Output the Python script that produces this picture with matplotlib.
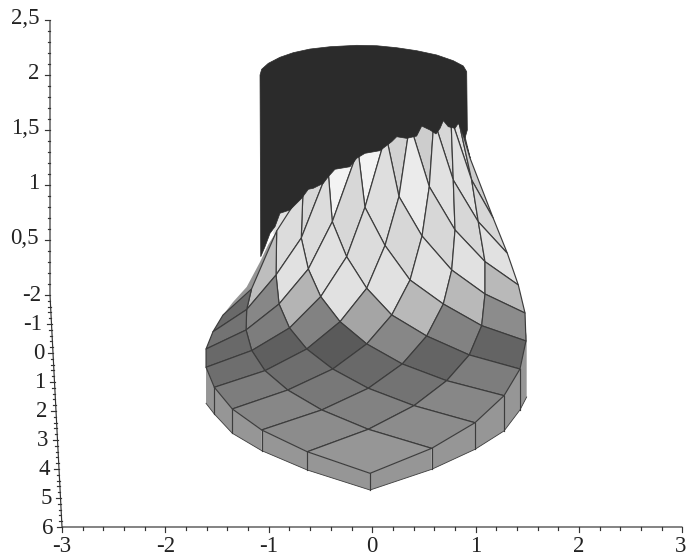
import matplotlib
matplotlib.use("Agg")
import matplotlib.pyplot as plt
import numpy as np

# Vertical axis ticks
z_ticks = [0.5, 1.0, 1.5, 2.0, 2.5]
z_labels = ["0,5", "1", "1,5", "2", "2,5"]
z_minor = [0.1, 0.2, 0.3, 0.4, 0.6, 0.7, 0.8, 0.9, 1.1, 1.2, 1.3, 1.4, 1.6, 1.7, 1.8, 1.9, 2.1, 2.2, 2.3, 2.4]
# Horizontal axis ticks
x_ticks = [-3, -2, -1, 0, 1, 2, 3]
# Depth axis ticks
d_ticks = [-2, -1, 0, 1, 2, 3, 4, 5, 6]

# Mesh nodes: one list per family line, projected on to the (x, z) plane
row0_x = [-0.021, 0.575, 0.994, 1.275, 1.429, 1.487, 1.478, 1.413, 1.307, 1.171, 0.946, 0.897]
row0_z = [-1.621, -1.394, -1.161, -0.915, -0.673, -0.418, -0.164, 0.091, 0.379, 0.697, 1.245, 1.436]
row1_x = [-0.628, -0.038, 0.404, 0.720, 0.939, 1.059, 1.091, 1.091, 1.026, 0.962, 0.830]
row1_z = [-1.425, -1.221, -1.006, -0.779, -0.545, -0.279, 0.009, 0.303, 0.666, 1.045, 1.609]
row2_x = [-1.069, -0.488, -0.038, 0.291, 0.527, 0.688, 0.769, 0.801, 0.784, 0.762]
row2_z = [-1.227, -1.045, -0.848, -0.627, -0.373, -0.082, 0.227, 0.591, 1.045, 1.609]
row3_x = [-1.353, -0.817, -0.382, -0.053, 0.189, 0.366, 0.482, 0.552, 0.597]
row3_z = [-1.036, -0.864, -0.673, -0.445, -0.182, 0.136, 0.536, 0.985, 1.591]
row4_x = [-1.527, -1.037, -0.633, -0.311, -0.053, 0.124, 0.259, 0.364]
row4_z = [-0.839, -0.688, -0.491, -0.243, 0.061, 0.450, 0.895, 1.555]
row5_x = [-1.607, -1.165, -0.800, -0.498, -0.247, -0.070, 0.133]
row5_z = [-0.657, -0.505, -0.300, -0.015, 0.348, 0.797, 1.455]
row6_x = [-1.607, -1.220, -0.901, -0.618, -0.386, -0.137]
row6_z = [-0.491, -0.318, -0.082, 0.236, 0.666, 1.318]
row7_x = [-1.540, -1.214, -0.930, -0.686, -0.427]
row7_z = [-0.334, -0.132, 0.182, 0.518, 1.136]
row8_x = [-1.443, -1.167, -0.924, -0.669]
row8_z = [-0.182, 0.055, 0.582, 0.955]

# Base wall
wall_x = [-1.607, -1.527, -1.353, -1.069, -0.628, -0.021, 0.575, 0.994, 1.275, 1.429, 1.494]
wall_top = [-0.657, -0.839, -1.036, -1.227, -1.425, -1.621, -1.394, -1.161, -0.915, -0.673, -0.336]
wall_bot = [-0.985, -1.082, -1.257, -1.415, -1.591, -1.773, -1.585, -1.403, -1.236, -1.045, -0.927]

# Back fold on the left
fold_x = [-1.443, -1.346, -1.214, -1.085, -1.007, -0.924, -1.176]
fold_z = [-0.182, -0.064, 0.073, 0.300, 0.455, 0.582, 0.018]

# Light surface behind the ragged upper mesh ends
back_x = [-0.960, -0.892, -0.669, -0.427, -0.137, 0.133, 0.364, 0.597, 0.762, 0.830, 0.897, 0.946, 0.269]
back_z = [0.560, 0.818, 0.955, 1.136, 1.318, 1.455, 1.555, 1.591, 1.609, 1.609, 1.436, 1.245, -0.045]

# Dark cylinder outline
cyl_x = [-1.085, -1.069, -1.005, -0.892, -0.763, -0.602, -0.408, -0.150, 0.045, 0.237, 0.430, 0.624, 0.784, 0.881,
         0.914, 0.920, 0.897, 0.866, 0.833, 0.801, 0.736, 0.688, 0.656, 0.617, 0.559, 0.479, 0.430, 0.334, 0.237,
         0.189, 0.075, -0.070, -0.150, -0.215, -0.360, -0.425, -0.473, -0.570, -0.618, -0.682, -0.795, -0.892,
         -0.940, -0.988, -1.037, -1.078]
cyl_z = [2.0, 2.052, 2.106, 2.161, 2.203, 2.236, 2.257, 2.270, 2.266, 2.248, 2.221, 2.182, 2.130, 2.082,
         2.030, 1.500, 1.424, 1.500, 1.561, 1.515, 1.530, 1.585, 1.515, 1.464, 1.500, 1.536, 1.445, 1.424, 1.439,
         1.394, 1.312, 1.288, 1.243, 1.166, 1.143, 1.075, 1.015, 0.970, 0.961, 0.879, 0.773, 0.743,
         0.621, 0.561, 0.439, 0.348]

# Grey level of every mesh face
face_gray = [
    [150, 140, 135, 125, 100, 140, 185, 225, 215, 205, 205],
    [140, 130, 115, 100, 130, 185, 225, 215, 225, 225],
    [135, 120, 105, 135, 185, 225, 215, 225, 215],
    [125, 110, 90, 165, 225, 215, 235, 205],
    [110, 95, 130, 225, 220, 222, 210],
    [105, 125, 180, 225, 215, 243],
    [115, 135, 225, 220, 243],
    [105, 190, 220, 215],
]

rows_x = [row0_x, row1_x, row2_x, row3_x, row4_x, row5_x, row6_x, row7_x, row8_x]
rows_z = [row0_z, row1_z, row2_z, row3_z, row4_z, row5_z, row6_z, row7_z, row8_z]

W, H = 686, 552
PX_X, ORG_X = 103.4, 372.2
PX_Z, ORG_Z = 110.0, 295.0
INK = "#333333"
LINE = "#3c3c3c"

fig = plt.figure(figsize=(W / 100, H / 100), dpi=100, facecolor="white")
ax = fig.add_axes([0, 0, 1, 1])
ax.set_xlim(-ORG_X / PX_X, (W - ORG_X) / PX_X)
ax.set_ylim((ORG_Z - H) / PX_Z, ORG_Z / PX_Z)
ax.axis("off")

def g(v):
    return (v / 255, v / 255, v / 255)

ax_left = (50 - ORG_X) / PX_X
ax_bottom_x = -3.0
z_bottom = (ORG_Z - 527) / PX_Z
dpx = 1.0 / PX_X
dpz = 1.0 / PX_Z

def depth_xy(d):
    t = (d + 2) / 8
    return ax_left + t * (ax_bottom_x - ax_left), t * z_bottom

LW = 0.85
ax.plot([ax_left, ax_left, ax_bottom_x, 3], [2.5, 0, z_bottom, z_bottom], color=INK, lw=LW, solid_capstyle="butt")

font = dict(family="Liberation Serif", fontsize=16.5, color="#222222")

for t, lab in zip(z_ticks, z_labels):
    ax.plot([ax_left - 5 * dpx, ax_left], [t, t], color=INK, lw=LW)
    ax.text(ax_left - 11 * dpx, t + 1 * dpz, lab, ha="right", va="center", **font)
for t in z_minor:
    ax.plot([ax_left - 2.5 * dpx, ax_left], [t, t], color=INK, lw=LW)

for d in d_ticks:
    x0, z0 = depth_xy(d)
    ax.plot([x0 - 5 * dpx, x0], [z0, z0], color=INK, lw=LW)
    ax.text(x0 - 9 * dpx, z0 - 1 * dpz, str(d), ha="right", va="center", **font)
    if d < 6:
        for f in (0.2, 0.4, 0.6, 0.8):
            x1, z1 = depth_xy(d + f)
            ax.plot([x1 - 2.5 * dpx, x1], [z1, z1], color=INK, lw=LW)

for t in x_ticks:
    ax.plot([t, t], [z_bottom, z_bottom - 5 * dpz], color=INK, lw=LW)
    ax.text(t - (2 if t == 3 else 0) * dpx, z_bottom - 24.5 * dpz, str(t), ha="center", va="baseline", **font)
    if t < 3:
        for f in (0.2, 0.4, 0.6, 0.8):
            ax.plot([t + f, t + f], [z_bottom, z_bottom - 2.5 * dpz], color=INK, lw=LW)

# Wall: flat fill, with only the bottom edge and the inner uprights outlined
for k in range(len(wall_x) - 1):
    ax.fill([wall_x[k], wall_x[k + 1], wall_x[k + 1], wall_x[k]],
            [wall_top[k], wall_top[k + 1], wall_bot[k + 1], wall_bot[k]],
            facecolor=g(150), edgecolor="none", zorder=2)
ax.plot(wall_x, wall_bot, color=LINE, lw=0.6, zorder=2.1)
for k in range(1, len(wall_x) - 1):
    ax.plot([wall_x[k], wall_x[k]], [wall_top[k], wall_bot[k]], color=LINE, lw=LW, zorder=2.1)

ax.fill(fold_x, fold_z, facecolor=g(150), edgecolor="none", zorder=2.5)
ax.fill(back_x, back_z, facecolor=g(225), edgecolor="none", zorder=2.6)

# Mesh faces, far ones first
faces = []
for j, grays in enumerate(face_gray):
    for i, v in enumerate(grays):
        pts = [(rows_x[j][i], rows_z[j][i]), (rows_x[j][i + 1], rows_z[j][i + 1])]
        if i + 1 < len(rows_x[j + 1]):
            pts.append((rows_x[j + 1][i + 1], rows_z[j + 1][i + 1]))
        pts.append((rows_x[j + 1][i], rows_z[j + 1][i]))
        faces.append((i + j, pts, v))
faces.sort(key=lambda f: -f[0])
for n, (_, pts, v) in enumerate(faces):
    xs, zs = zip(*pts)
    ax.fill(xs, zs, facecolor=g(v), edgecolor=LINE, lw=LW, joinstyle="round", zorder=3 + n * 0.001)

# Dark cylinder in front of the upper mesh ends
ax.fill(cyl_x, cyl_z, facecolor="#2b2b2b", edgecolor="#2b2b2b", lw=0.5, zorder=5)

fig.savefig("out.png", dpi=100)
